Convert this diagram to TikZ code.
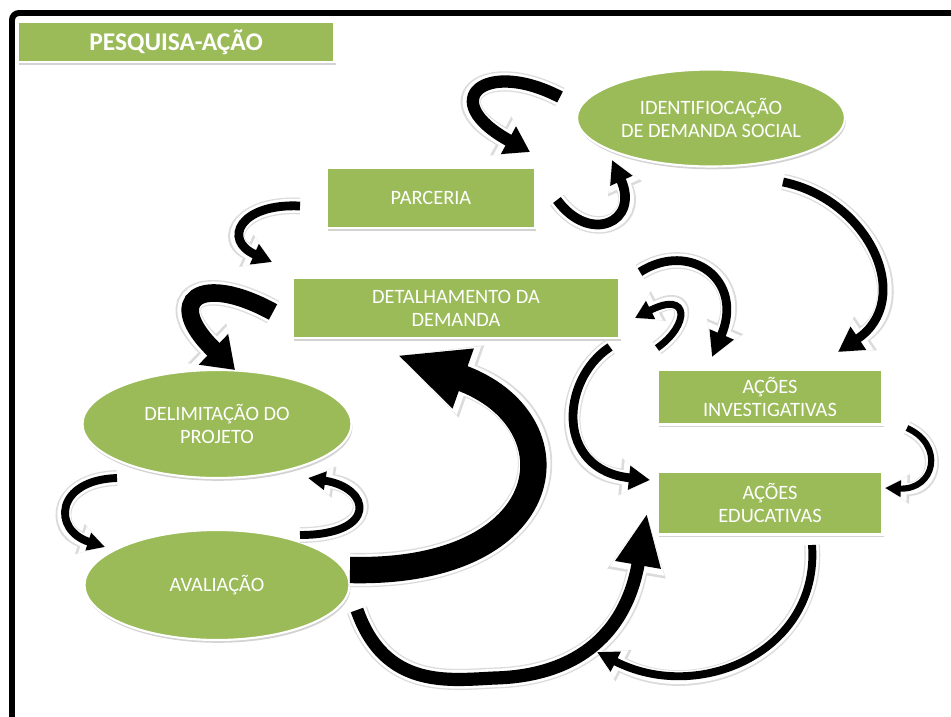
\documentclass[tikz,border=0pt]{standalone}
\usepackage{fontspec}
\setmainfont{Carlito}
\usetikzlibrary{shapes.geometric,shadows,arrows.meta}
\definecolor{leaf}{HTML}{9BBB59}

\begin{document}
\begin{tikzpicture}[x=0.02cm, y=-0.02cm,
  box/.style={rectangle, fill=leaf, draw=white, line width=1.2pt, text=white, align=center, inner sep=0pt,
    font=\fontsize{11.6}{13}\selectfont, drop shadow={opacity=0.35, shadow xshift=0.6pt, shadow yshift=-1.6pt}},
  oval/.style={box, ellipse},
  ribbon/.style n args={3}{line width=#1, -{Triangle[length=#2, width=#3]},
    preaction={draw=black!14, line width=#1+4.5pt, -{Triangle[length=#2+5pt, width=#3+7pt]}},
    preaction={draw=white, line width=#1+3pt, -{Triangle[length=#2+3.5pt, width=#3+5pt]}}}
]
  \useasboundingbox (0,0) rectangle (951,717);
  \draw[line width=3.4pt, rounded corners=4pt] (12,760) -- (12,13) -- (1000,13);

  % title
  \node[box, minimum width=6.34cm, minimum height=0.8cm, font=\fontsize{14.5}{16}\selectfont\bfseries] (title) at (176,42) {PESQUISA-AÇÃO};

  % steps
  \node[oval, minimum width=5.36cm, minimum height=1.94cm] (ident) at (711,118) {IDENTIFIOCAÇÃO\\DE DEMANDA SOCIAL};
  \node[box, minimum width=4.16cm, minimum height=1.2cm] (parc) at (431,198) {PARCERIA};
  \node[box, minimum width=6.54cm, minimum height=1.2cm] (detal) at (456,308) {DETALHAMENTO DA\\DEMANDA};
  \node[oval, minimum width=5.38cm, minimum height=2.16cm] (delim) at (217,424) {DELIMITAÇÃO DO\\PROJETO};
  \node[oval, minimum width=5.3cm, minimum height=2.2cm] (aval) at (217,585) {AVALIAÇÃO};
  \node[box, minimum width=4.5cm, minimum height=1.1cm] (invest) at (770,397) {AÇÕES\\INVESTIGATIVAS};
  \node[box, minimum width=4.5cm, minimum height=1.26cm] (educ) at (770,503) {AÇÕES\\EDUCATIVAS};

  % loose ends of the curved arrows
  \coordinate (idpa-s) at (560,97);   \coordinate (idpa-e) at (530,152);
  \coordinate (paid-s) at (557,200);  \coordinate (paid-e) at (612,160);
  \coordinate (pade-s) at (300,206);  \coordinate (pade-e) at (272,262);
  \coordinate (dedl-s) at (273,312);  \coordinate (dedl-e) at (235,370);
  \coordinate (dlav-s) at (117,478);  \coordinate (dlav-e) at (105,547);
  \coordinate (avdl-s) at (300,535);  \coordinate (avdl-e) at (308,478);
  \coordinate (avde-s) at (350,570);  \coordinate (avde-e) at (397,355);
  \coordinate (aved-s) at (357,610);  \coordinate (aved-m) at (495,678);  \coordinate (aved-e) at (647,513);
  \coordinate (edav-s) at (812,545);  \coordinate (edav-e) at (597,652);
  \coordinate (idin-s) at (783,182);  \coordinate (idin-e) at (838,352);
  \coordinate (dein-s) at (640,272);  \coordinate (dein-e) at (712,357);
  \coordinate (inde-s) at (657,348);  \coordinate (inde-e) at (635,318);
  \coordinate (deed-s) at (610,347);  \coordinate (deed-e) at (650,480);
  \coordinate (ined-s) at (907,428);  \coordinate (ined-e) at (885,488);

  % arrows
  \draw[ribbon={7pt}{14pt}{17pt}] (idpa-s) .. controls (485,58) and (435,100) .. (idpa-e);
  \draw[ribbon={5.5pt}{13pt}{13pt}] (paid-s) .. controls (590,245) and (640,222) .. (paid-e);
  \draw[ribbon={5pt}{11pt}{12pt}] (pade-s) .. controls (240,203) and (222,240) .. (pade-e);
  \draw[ribbon={10pt}{17pt}{23pt}] (dedl-s) .. controls (200,272) and (162,300) .. (dedl-e);
  \draw[ribbon={4.5pt}{10pt}{10pt}] (dlav-s) .. controls (55,480) and (52,530) .. (dlav-e);
  \draw[ribbon={4.5pt}{10pt}{10pt}] (avdl-s) .. controls (378,535) and (372,488) .. (avdl-e);
  \draw[ribbon={15pt}{40pt}{33pt}] (avde-s) .. controls (560,575) and (580,420) .. (avde-e);
  \draw[ribbon={7.5pt}{30pt}{24pt}] (aved-s) .. controls (385,690) and (450,680) .. (aved-m)
    .. controls (570,676) and (625,640) .. (aved-e);
  \draw[ribbon={4.5pt}{12pt}{12pt}] (edav-s) .. controls (820,650) and (700,705) .. (edav-e);
  \draw[ribbon={5pt}{14pt}{15pt}] (idin-s) .. controls (870,200) and (915,300) .. (idin-e);
  \draw[ribbon={5pt}{14pt}{14pt}] (dein-s) .. controls (690,240) and (745,280) .. (dein-e);
  \draw[ribbon={4pt}{10pt}{11pt}] (inde-s) .. controls (690,325) and (690,290) .. (inde-e);
  \draw[ribbon={5pt}{12pt}{13pt}] (deed-s) .. controls (560,380) and (555,470) .. (deed-e);
  \draw[ribbon={3.5pt}{9pt}{9pt}] (ined-s) .. controls (945,445) and (935,490) .. (ined-e);
\end{tikzpicture}
\end{document}
